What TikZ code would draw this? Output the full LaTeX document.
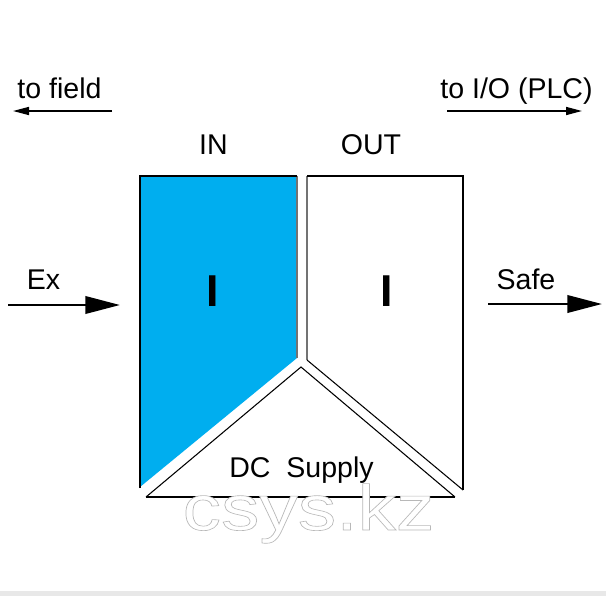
\documentclass[tikz,border=0pt]{standalone}
\usepackage{fontspec}
\setmainfont{Liberation Sans}
\usetikzlibrary{arrows.meta,calc}
\definecolor{inblue}{RGB}{0,174,239}
\newcommand{\outlinetext}[1]{\textcolor{white}{\special{pdf:literal direct 2 Tr 0.72 G 0.45 w}#1\special{pdf:literal direct 0 Tr}}}
\begin{document}
\begin{tikzpicture}[x=0.75pt,y=-0.75pt,
  lbl/.style={font=\fontsize{21.4pt}{24pt}\selectfont, inner sep=0pt, anchor=base},
  bigI/.style={font=\fontsize{33.5pt}{36pt}\selectfont\bfseries, inner sep=0pt, anchor=base},
  heavy/.style={line width=2.2pt},
  frame/.style={line width=1.8pt},
  inner/.style={line width=0.8pt, draw=black!55},
  thin/.style={line width=0.8pt},
  smallarrow/.style={line width=1.2pt, -{Triangle[length=12pt,width=6pt]}},
  bigarrow/.style={line width=2pt, -{Triangle[length=26pt,width=13pt]}},
  wm/.style={font=\fontsize{48pt}{50pt}\selectfont, inner sep=0pt, anchor=base, xscale=1.2}
]
\useasboundingbox (0,0) rectangle (606,596);
\fill[black!9] (0,591) rectangle (606,596);

% coordinates
\coordinate (inTL) at (140,176);
\coordinate (inTR) at (297,176);
\coordinate (inBR) at (297,358);
\coordinate (inBL) at (140,487);
\coordinate (inBLx) at (140,488);
\coordinate (outTL) at (307,176);
\coordinate (outTR) at (463,176);
\coordinate (outBR) at (463,490);
\coordinate (outBL) at (307,360);
\coordinate (apex) at (301,367);
\coordinate (baseL) at (146,497);
\coordinate (baseR) at (455,497);

% IN block
\fill[inblue] (inTL) -- (inTR) -- (inBR) -- (inBL) -- cycle;
\draw[inner] (inTR) -- (inBR);
\draw[frame] (inBLx) -- (inTL) -- (inTR);
% OUT block
\draw[inner] (outTL) -- (outBL);
\draw[thin] (outBL) -- (outBR);
\draw[frame] (outTL) -- (outTR) -- (outBR);
% DC supply triangle
\draw[thin] (baseL) -- (apex) -- (baseR);
\draw[heavy] (baseL) -- (baseR);

% labels
\node[lbl] (tofield) at (59.5,98) {to field};
\node[lbl] (toio) at (516.5,98) {to I/O (PLC)};
\node[lbl] (inlbl) at (213.5,154) {IN};
\node[lbl] (outlbl) at (371,154) {OUT};
\node[lbl] (exlbl) at (43.5,289) {Ex};
\node[lbl] (safelbl) at (526,289) {Safe};
\node[lbl] (dclbl) at (301.5,477) {DC\ \ Supply};
\node[bigI] (iin) at (213,306) {I};
\node[bigI] (iout) at (387,306) {I};

% arrows
\coordinate (tf1) at (112,111);
\coordinate (tf2) at (13,111);
\coordinate (io1) at (447,111);
\coordinate (io2) at (582,111);
\coordinate (ex1) at (8,305);
\coordinate (ex2) at (120,305);
\coordinate (sf1) at (488,304);
\coordinate (sf2) at (602,304);
\draw[smallarrow] (tf1) -- (tf2);
\draw[smallarrow] (io1) -- (io2);
\draw[bigarrow] (ex1) -- (ex2);
\draw[bigarrow] (sf1) -- (sf2);

% watermark
\node[wm] (wmt) at (308.5,530) {\outlinetext{csys.kz}};
\end{tikzpicture}
\end{document}
